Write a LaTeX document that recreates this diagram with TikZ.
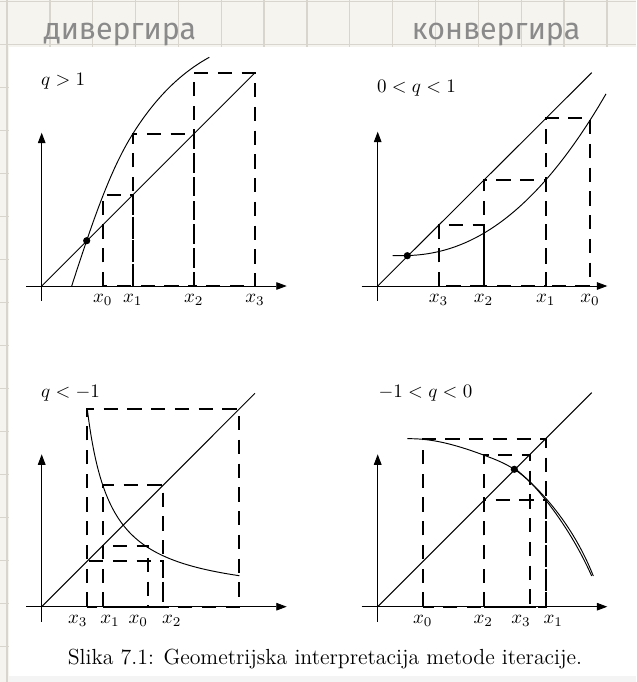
\documentclass[tikz,border=0pt]{standalone}
\usepackage{fontspec}
\newfontfamily\handfont{Fira Sans}
\usetikzlibrary{arrows.meta,hobby}
\definecolor{paper}{HTML}{F6F4EF}
\definecolor{gridc}{HTML}{D8D5CE}
\definecolor{handc}{HTML}{8A8A8A}
\definecolor{stripc}{HTML}{F4F4F4}
\begin{document}
\begin{tikzpicture}[x=0.526316pt,y=-0.526316pt,
  curve/.style={line width=0.5pt},
  axis/.style={line width=0.5pt,-{Triangle[length=5.5pt,width=4pt]}},
  dsh/.style={line width=1.05pt,dash pattern=on 7.5pt off 5pt},
  lab/.style={anchor=base,inner sep=0pt,font=\fontsize{10}{12}\selectfont},
  qlab/.style={anchor=base west,inner sep=0pt,font=\fontsize{10}{12}\selectfont},
  hand/.style={anchor=base,inner sep=0pt,text=handc,font=\handfont\fontsize{16}{18}\selectfont},
  dot/.style={fill=black}]
% background paper
\useasboundingbox (0,0) rectangle (636,682);
\fill[paper] (0,0) rectangle (636,682);
\foreach \i in {0,...,14} \draw[gridc,line width=0.7pt] ({7+42.85*\i},0) -- ({7+42.85*\i},682);
\foreach \j in {0,...,15} \draw[gridc,line width=0.7pt] (0,{1.5+43*\j}) -- (636,{1.5+43*\j});
\fill[white] (8.5,47) rectangle (636,676);
\fill[stripc] (8.5,676) rectangle (636,682);
% headers
\node[hand] (hdiv) at (120,39) {дивергира};
\node[hand] (hkon) at (496,39) {конвергира};
% ---------- panel 1: q>1 ----------
\coordinate (aO) at (41.7,286);
\coordinate (aXs) at (26,286); \coordinate (aXe) at (286.7,286);
\coordinate (aYs) at (41.7,300.7); \coordinate (aYe) at (41.7,132.7);
\coordinate (aD) at (255,72.7);
\draw[axis] (aXs) -- (aXe);
\draw[axis] (aYs) -- (aYe);
\draw[curve] (aO) -- (aD);
\draw[curve] (71.7,286) .. controls (93.7,217.8) and (110.7,169.2) .. (132.7,134)
  .. controls (157.7,94) and (184.3,71) .. (209.3,57.3);
\draw[dsh] (102.7,286) rectangle (132.7,195);
\draw[dsh] (132.7,286) rectangle (193.7,134);
\draw[dsh] (193.7,286) rectangle (255,72.7);
\fill[dot] (86.7,240.7) circle (1.9pt);
\node[lab] (a0) at (102.7,302.7) {$x_0$};
\node[lab] (a1) at (132.7,302.7) {$x_1$};
\node[lab] (a2) at (193.7,302.7) {$x_2$};
\node[lab] (a3) at (255,302.7) {$x_3$};
\node[qlab] (aq) at (40.7,85.3) {$q>1$};
% ---------- panel 2: 0<q<1 ----------
\coordinate (bO) at (377.7,286);
\coordinate (bXs) at (361.7,286); \coordinate (bXe) at (607.3,286);
\coordinate (bYs) at (377.7,300.7); \coordinate (bYe) at (377.7,131.7);
\coordinate (bD) at (591.7,72.7);
\draw[axis] (bXs) -- (bXe);
\draw[axis] (bYs) -- (bYe);
\draw[curve] (bO) -- (bD);
\draw[curve] plot[domain=15:228.3,samples=90,variable=\u,smooth]
  ({377.7+\u},{255.7-32.9*exp(2.2*ln(max((\u-22)/100,0.0001)))});
\draw[dsh] (545.7,286) rectangle (590,118.3);
\draw[dsh] (483.5,286) rectangle (545.7,180);
\draw[dsh] (438.5,286) rectangle (483.5,225);
\fill[dot] (407.3,255.7) circle (1.9pt);
\node[lab] (b3) at (438.5,302.7) {$x_3$};
\node[lab] (b2) at (483.5,302.7) {$x_2$};
\node[lab] (b1) at (545.7,302.7) {$x_1$};
\node[lab] (b0) at (590,302.7) {$x_0$};
\node[qlab] (bq) at (376.7,92.3) {$0<q<1$};
% ---------- panel 3: q<-1 ----------
\coordinate (cO) at (41.7,606.7);
\coordinate (cXs) at (26,606.7); \coordinate (cXe) at (286.7,606.7);
\coordinate (cYs) at (41.7,621.7); \coordinate (cYe) at (41.7,454.3);
\coordinate (cD) at (255,393.3);
\draw[axis] (cXs) -- (cXe);
\draw[axis] (cYs) -- (cYe);
\draw[curve] (cO) -- (cD);
\draw[curve] plot[domain=45.6:197.6,samples=90,variable=\u,smooth]
  ({41.7+\u},{606.7-5-4570/(\u-21.85)});
\draw[dsh] (102.7,606.7) rectangle (148.3,545.7);
\draw[dsh] (102.7,606.7) rectangle (163.3,485);
\draw[dsh] (87.3,606.7) rectangle (163.3,561);
\draw[dsh] (87.3,606.7) rectangle (239.3,409.3);
\node[lab] (c3) at (77.7,623.3) {$x_3$};
\node[lab] (c1) at (110,623.3) {$x_1$};
\node[lab] (c0) at (138.3,623.3) {$x_0$};
\node[lab] (c2) at (171.7,623.3) {$x_2$};
\node[qlab] (cq) at (40.7,397.3) {$q<-1$};
% ---------- panel 4: -1<q<0 ----------
\coordinate (dO) at (377.7,606.7);
\coordinate (dXs) at (361.7,606.7); \coordinate (dXe) at (607.3,606.7);
\coordinate (dYs) at (377.7,621.7); \coordinate (dYe) at (377.7,454.3);
\coordinate (dD) at (591.7,392.7);
\draw[axis] (dXs) -- (dXe);
\draw[axis] (dYs) -- (dYe);
\draw[curve] (dO) -- (dD);
\draw[curve,use Hobby shortcut] (407.3,438.7) .. (422.7,439.3) .. (483.5,455) .. (514.3,469.3) .. (545.7,500) .. (591.7,576);
\draw[curve,use Hobby shortcut,xshift=0.85pt] (514.3,469.3) .. (545.7,500) .. (591.7,576);
\draw[dsh] (422.7,606.7) rectangle (545.7,439.3);
\draw[dsh] (483.5,606.7) rectangle (545.7,500);
\draw[dsh] (483.5,606.7) rectangle (530,455);
\fill[dot] (514.3,469.3) circle (1.9pt);
\node[lab] (d0) at (422.7,623.3) {$x_0$};
\node[lab] (d2) at (483.3,623.3) {$x_2$};
\node[lab] (d3) at (521,623.3) {$x_3$};
\node[lab] (d1) at (553.3,623.3) {$x_1$};
\node[qlab] (dq) at (378.3,397.3) {$-1<q<0$};
% caption
\node[anchor=base,inner sep=0pt,font=\fontsize{11.5}{14}\selectfont] (cap) at (325,664) {Slika 7.1: Geometrijska interpretacija metode iteracije.};
\end{tikzpicture}
\end{document}
